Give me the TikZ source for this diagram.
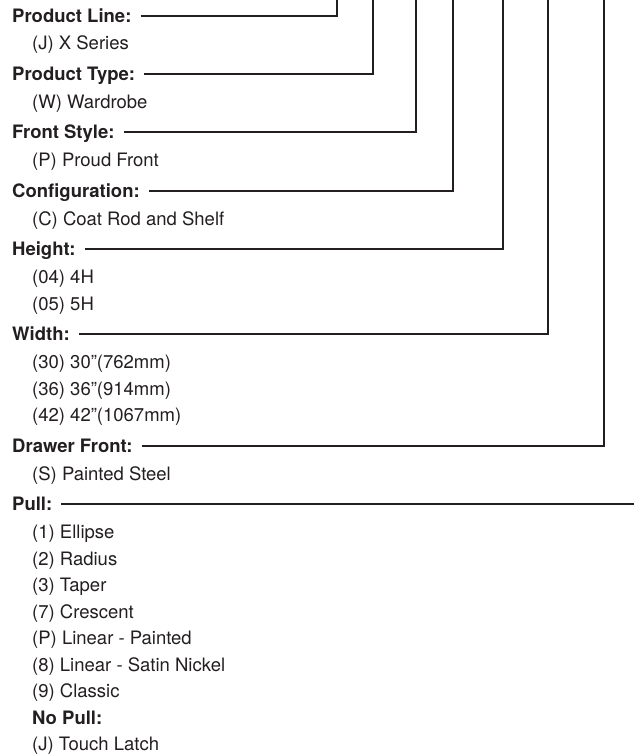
\documentclass[tikz,border=0pt]{standalone}
\usepackage{fontspec}
\setmainfont{TeX Gyre Heros}
\usetikzlibrary{positioning}
\definecolor{ink}{HTML}{231F20}

\begin{document}
\begin{tikzpicture}[
  x=1pt, y=-1pt,
  head/.style={anchor=west, inner sep=0pt, text=ink, text height=13.3pt, text depth=0pt, font=\fontsize{18.5}{21}\selectfont\bfseries},
  item/.style={anchor=west, inner sep=0pt, text=ink, text height=13.3pt, text depth=0pt, font=\fontsize{18.5}{21}\selectfont},
  leader/.style={draw=ink, line width=2pt}
]
  \useasboundingbox (0,0) rectangle (634,756);

  \node[head] (line) at (12,15.5) {Product Line:};
  \node[item] (lineJ) at (32,43) {(J) X Series};
  \node[head] (type) at (12,73.5) {Product Type:};
  \node[item] (typeW) at (32,101.5) {(W) Wardrobe};
  \node[head] (front) at (12,132) {Front Style:};
  \node[item] (frontP) at (32,160) {(P) Proud Front};
  \node[head] (config) at (12,190.5) {Configuration:};
  \node[item] (configC) at (32,218.5) {(C) Coat Rod and Shelf};
  \node[head] (height) at (12,249) {Height:};
  \node[item] (height4) at (32,277) {(04) 4H};
  \node[item] (height5) at (32,303.5) {(05) 5H};
  \node[head] (width) at (12,334) {Width:};
  \node[item] (width30) at (32,362) {(30) 30”(762mm)};
  \node[item] (width36) at (32,388.5) {(36) 36”(914mm)};
  \node[item] (width42) at (32,415) {(42) 42”(1067mm)};
  \node[head] (drawer) at (12,445.5) {Drawer Front:};
  \node[item] (drawerS) at (32,473.5) {(S) Painted Steel};
  \node[head] (pull) at (12,504) {Pull:};
  \node[item] (pull1) at (32,532) {(1) Ellipse};
  \node[item] (pull2) at (32,558.5) {(2) Radius};
  \node[item] (pull3) at (32,585) {(3) Taper};
  \node[item] (pull7) at (32,611.5) {(7) Crescent};
  \node[item] (pullP) at (32,638) {(P) Linear - Painted};
  \node[item] (pull8) at (32,664.5) {(8) Linear - Satin Nickel};
  \node[item] (pull9) at (32,691) {(9) Classic};
  \node[head] (nopull) at (32,717.5) {No Pull:};
  \node[item] (nopullJ) at (32,744) {(J) Touch Latch};

  % tops of the leaders
  \coordinate (lineTop) at (336.7,0);
  \coordinate (typeTop) at (372.7,0);
  \coordinate (frontTop) at (416.3,0);
  \coordinate (configTop) at (453,0);
  \coordinate (heightTop) at (503.3,0);
  \coordinate (widthTop) at (548.3,0);
  \coordinate (drawerTop) at (604.3,0);
  \coordinate (pullEnd) at (634,504);

  \draw[leader] ([xshift=9pt]line.east) -| (lineTop);
  \draw[leader] ([xshift=9pt]type.east) -| (typeTop);
  \draw[leader] ([xshift=9pt]front.east) -| (frontTop);
  \draw[leader] ([xshift=9pt]config.east) -| (configTop);
  \draw[leader] ([xshift=9pt]height.east) -| (heightTop);
  \draw[leader] ([xshift=9pt]width.east) -| (widthTop);
  \draw[leader] ([xshift=9pt]drawer.east) -| (drawerTop);
  \draw[leader] ([xshift=9pt]pull.east) -- (pullEnd);
\end{tikzpicture}
\end{document}
